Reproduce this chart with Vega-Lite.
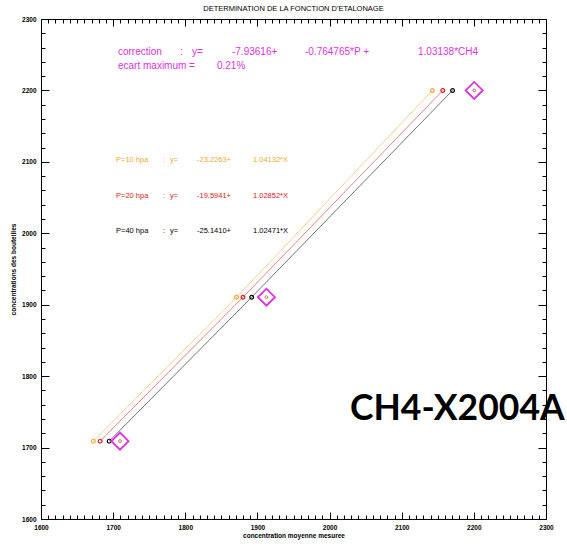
{
  "$schema": "https://vega.github.io/schema/vega-lite/v6.json",
  "width": 505,
  "height": 500,
  "autosize": "none",
  "padding": {"left": 41, "top": 19, "right": 21, "bottom": 30},
  "background": "white",
  "config": {
    "view": {"stroke": "#000", "strokeWidth": 1},
    "font": "Liberation Sans",
    "axis": {"domain": false, "grid": false, "tickColor": "#000", "tickWidth": 1}
  },
  "title": {"text": "DETERMINATION DE LA FONCTION D'ETALONAGE", "fontSize": 7.5, "fontWeight": "normal", "font": "Liberation Sans", "color": "#000", "offset": 4},
  "datasets": {
    "pts": [
      {"series": "P=10 hpa", "x": 1672.5, "y": 1709},
      {"series": "P=10 hpa", "x": 1871, "y": 1910.5},
      {"series": "P=10 hpa", "x": 2142.5, "y": 2200},
      {"series": "P=20 hpa", "x": 1682, "y": 1709},
      {"series": "P=20 hpa", "x": 1880, "y": 1910.5},
      {"series": "P=20 hpa", "x": 2157, "y": 2200},
      {"series": "P=40 hpa", "x": 1694.5, "y": 1709},
      {"series": "P=40 hpa", "x": 1892, "y": 1910.5},
      {"series": "P=40 hpa", "x": 2170.5, "y": 2200}
    ],
    "bottles": [
      {"x": 1709.5, "y": 1709},
      {"x": 1912.5, "y": 1910.5},
      {"x": 2200.5, "y": 2200}
    ],
    "notes": [
      {"series": "correction", "label": "correction", "x": 1706.7, "y": 2254.5},
      {"series": "correction", "label": ":", "x": 1792.7, "y": 2254.5},
      {"series": "correction", "label": "y=", "x": 1809.3, "y": 2254.5},
      {"series": "correction", "label": "-7.93616+", "x": 1864.7, "y": 2254.5},
      {"series": "correction", "label": "-0.764765*P +", "x": 1965.9, "y": 2254.5},
      {"series": "correction", "label": "1.03138*CH4", "x": 2122.6, "y": 2254.5},
      {"series": "correction", "label": "ecart maximum =", "x": 1706.7, "y": 2234.9},
      {"series": "correction", "label": "0.21%", "x": 1843.9, "y": 2234.9},
      {"series": "P=10 hpa", "label": "P=10 hpa", "x": 1704, "y": 2103.3},
      {"series": "P=10 hpa", "label": ":", "x": 1769.1, "y": 2103.3},
      {"series": "P=10 hpa", "label": "y=", "x": 1778.8, "y": 2103.3},
      {"series": "P=10 hpa", "label": "-23.2263+", "x": 1816.2, "y": 2103.3},
      {"series": "P=10 hpa", "label": "1.04132*X", "x": 1893.8, "y": 2103.3},
      {"series": "P=20 hpa", "label": "P=20 hpa", "x": 1704, "y": 2052.9},
      {"series": "P=20 hpa", "label": ":", "x": 1769.1, "y": 2052.9},
      {"series": "P=20 hpa", "label": "y=", "x": 1778.8, "y": 2052.9},
      {"series": "P=20 hpa", "label": "-19.5941+", "x": 1816.2, "y": 2052.9},
      {"series": "P=20 hpa", "label": "1.02852*X", "x": 1893.8, "y": 2052.9},
      {"series": "P=40 hpa", "label": "P=40 hpa", "x": 1704, "y": 2003.9},
      {"series": "P=40 hpa", "label": ":", "x": 1769.1, "y": 2003.9},
      {"series": "P=40 hpa", "label": "y=", "x": 1778.8, "y": 2003.9},
      {"series": "P=40 hpa", "label": "-25.1410+", "x": 1816.2, "y": 2003.9},
      {"series": "P=40 hpa", "label": "1.02471*X", "x": 1893.8, "y": 2003.9}
    ],
    "tag": [
      {"label": "CH4-X2004A", "x": 2028.3, "y": 1739.3}
    ]
  },
  "layer": [
    {
      "data": {"name": "pts"},
      "mark": {"type": "line", "strokeWidth": 1, "opacity": 0.55},
      "encoding": {
        "x": {"field": "x", "type": "quantitative", "scale": {"domain": [1600, 2300], "nice": false, "zero": false},
          "axis": {"orient": "bottom", "title": "concentration moyenne mesuree", "titleFontSize": 6.5, "titleFontWeight": "bold", "titleFont": "Liberation Sans", "titlePadding": 1, "titleColor": "#000",
            "values": [1600,1700,1800,1900,2000,2100,2200,2300], "format": "d", "labelOverlap": false, "labelFlush": false,
            "labelFontSize": 6.5, "labelFontWeight": "bold", "labelColor": "#000", "labelPadding": 12.5, "tickSize": -7}},
        "y": {"field": "y", "type": "quantitative", "scale": {"domain": [1600, 2300], "nice": false, "zero": false},
          "axis": {"orient": "left", "title": "concentrations des bouteilles", "titleFontSize": 6.5, "titleFontWeight": "bold", "titleFont": "Liberation Sans", "titlePadding": 5, "titleColor": "#000",
            "values": [1600,1700,1800,1900,2000,2100,2200,2300], "format": "d", "labelOverlap": false, "labelFlush": false,
            "labelFontSize": 6.5, "labelFontWeight": "bold", "labelColor": "#000", "labelPadding": 13, "tickSize": -8}},
        "color": {"field": "series", "type": "nominal",
          "scale": {"domain": ["P=10 hpa", "P=20 hpa", "P=40 hpa", "correction"], "range": ["#f0a830", "#e01818", "#000000", "#e030e0"]},
          "legend": null}
      }
    },
    {
      "data": {"name": "pts"},
      "mark": {"type": "point", "shape": "circle", "filled": false, "size": 14, "strokeWidth": 1.2, "opacity": 1},
      "encoding": {
        "x": {"field": "x", "type": "quantitative",
          "axis": {"orient": "bottom", "title": null, "labels": false, "tickSize": -4,
            "values": [1610,1620,1630,1640,1650,1660,1670,1680,1690,1710,1720,1730,1740,1750,1760,1770,1780,1790,1810,1820,1830,1840,1850,1860,1870,1880,1890,1910,1920,1930,1940,1950,1960,1970,1980,1990,2010,2020,2030,2040,2050,2060,2070,2080,2090,2110,2120,2130,2140,2150,2160,2170,2180,2190,2210,2220,2230,2240,2250,2260,2270,2280,2290]}},
        "y": {"field": "y", "type": "quantitative",
          "axis": {"orient": "left", "title": null, "labels": false, "tickSize": -4,
            "values": [1620,1640,1660,1680,1720,1740,1760,1780,1820,1840,1860,1880,1920,1940,1960,1980,2020,2040,2060,2080,2120,2140,2160,2180,2220,2240,2260,2280]}},
        "color": {"field": "series", "type": "nominal", "legend": null}
      }
    },
    {
      "data": {"name": "bottles"},
      "mark": {"type": "point", "shape": "diamond", "filled": false, "size": 290, "strokeWidth": 1.8, "color": "#e030e0", "opacity": 1},
      "encoding": {
        "x": {"field": "x", "type": "quantitative",
          "axis": {"orient": "top", "title": null, "labels": false, "tickSize": -7,
            "values": [1600,1700,1800,1900,2000,2100,2200,2300]}},
        "y": {"field": "y", "type": "quantitative",
          "axis": {"orient": "right", "title": null, "labels": false, "tickSize": -8,
            "values": [1600,1700,1800,1900,2000,2100,2200,2300]}}
      }
    },
    {
      "data": {"name": "bottles"},
      "mark": {"type": "point", "shape": "circle", "filled": false, "size": 8, "strokeWidth": 1, "color": "#b08060", "opacity": 1},
      "encoding": {
        "x": {"field": "x", "type": "quantitative",
          "axis": {"orient": "top", "title": null, "labels": false, "tickSize": -4,
            "values": [1610,1620,1630,1640,1650,1660,1670,1680,1690,1710,1720,1730,1740,1750,1760,1770,1780,1790,1810,1820,1830,1840,1850,1860,1870,1880,1890,1910,1920,1930,1940,1950,1960,1970,1980,1990,2010,2020,2030,2040,2050,2060,2070,2080,2090,2110,2120,2130,2140,2150,2160,2170,2180,2190,2210,2220,2230,2240,2250,2260,2270,2280,2290]}},
        "y": {"field": "y", "type": "quantitative",
          "axis": {"orient": "right", "title": null, "labels": false, "tickSize": -4,
            "values": [1620,1640,1660,1680,1720,1740,1760,1780,1820,1840,1860,1880,1920,1940,1960,1980,2020,2040,2060,2080,2120,2140,2160,2180,2220,2240,2260,2280]}}
      }
    },
    {
      "data": {"name": "notes"},
      "transform": [{"filter": "datum.series === 'correction'"}],
      "mark": {"type": "text", "align": "left", "baseline": "middle", "fontSize": 10, "font": "Liberation Sans"},
      "encoding": {
        "x": {"field": "x", "type": "quantitative", "axis": null},
        "y": {"field": "y", "type": "quantitative", "axis": null},
        "text": {"field": "label"},
        "color": {"field": "series", "type": "nominal", "legend": null}
      }
    },
    {
      "data": {"name": "notes"},
      "transform": [{"filter": "datum.series !== 'correction'"}],
      "mark": {"type": "text", "align": "left", "baseline": "middle", "fontSize": 7.5, "font": "Liberation Sans"},
      "encoding": {
        "x": {"field": "x", "type": "quantitative", "axis": null},
        "y": {"field": "y", "type": "quantitative", "axis": null},
        "text": {"field": "label"},
        "color": {"field": "series", "type": "nominal", "legend": null}
      }
    },
    {
      "data": {"name": "tag"},
      "mark": {"type": "text", "align": "left", "baseline": "alphabetic", "fontSize": 35.5, "font": "Lato", "fontWeight": "bold", "color": "#000"},
      "encoding": {
        "x": {"field": "x", "type": "quantitative", "axis": null},
        "y": {"field": "y", "type": "quantitative", "axis": null},
        "text": {"field": "label"}
      }
    }
  ],
  "resolve": {"axis": {"x": "independent", "y": "independent"}}
}
